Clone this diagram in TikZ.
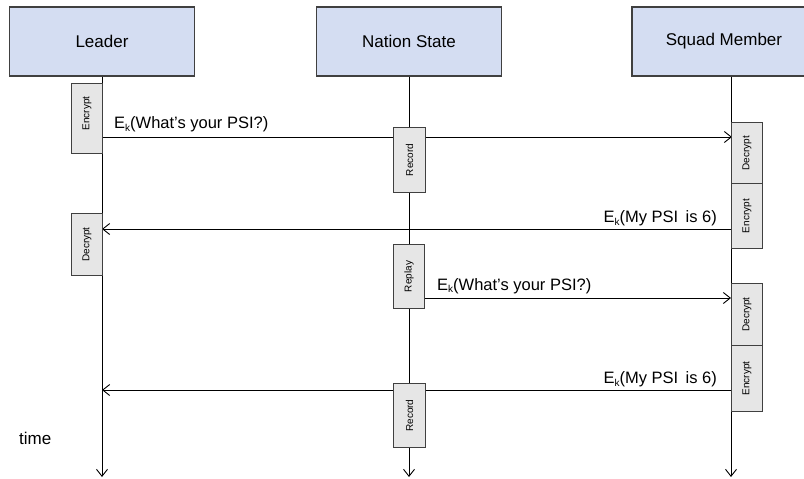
\documentclass[tikz,border=0pt]{standalone}
\usepackage{fontspec}
\setmainfont{Liberation Sans}
\usetikzlibrary{arrows.meta}
\definecolor{headfill}{RGB}{212,221,242}
\definecolor{actfill}{RGB}{230,230,230}
\definecolor{edgegray}{RGB}{64,64,64}
% small lowered key index
\newcommand{\keysub}[1]{\raisebox{-2.5pt}{\fontsize{10}{12}\selectfont #1}}
\begin{document}
\begin{tikzpicture}[x=1pt,y=-1pt,
  head/.style={draw=edgegray,line width=1.4pt,fill=headfill,minimum width=185pt,
    minimum height=69pt,inner sep=0pt,font=\fontsize{17}{20}\selectfont},
  act/.style={draw=edgegray,line width=1.1pt,fill=actfill,inner sep=0pt,
    minimum width=31pt,anchor=north west},
  actlabel/.style={rotate=90,inner sep=0pt,font=\fontsize{10}{12}\selectfont},
  life/.style={line width=0.9pt,-{Straight Barb[length=7pt,width=11pt]}},
  msg/.style={line width=0.9pt,-{Straight Barb[length=7pt,width=11pt]}},
  msglabel/.style={inner sep=0pt,font=\fontsize{16.5}{19}\selectfont}]
\useasboundingbox (0,0) rectangle (804,479);
\clip (0,0) rectangle (804,479);

% lifeline ends
\coordinate (leaderEnd) at (102,477);
\coordinate (nationEnd) at (409,477);
\coordinate (squadEnd)  at (731,477);

% participant headers
\node[head] (leader) at (102,41.5) {Leader};
\node[head] (nation) at (409,41.5) {Nation State};
\node[head,minimum width=190pt] (squad) at (727,41.5) {};
\node[font=\fontsize{17}{20}\selectfont,inner sep=0pt] (squadtxt) at (724,41.5) {Squad Member};

% lifelines
\draw[life] (leader.south -| leaderEnd) -- (leaderEnd);
\draw[life] (nation.south -| nationEnd) -- (nationEnd);
\draw[life] (squad.south -| squadEnd) -- (squadEnd);

% message anchor points
\coordinate (m1s) at (102,137);  \coordinate (m1e) at (732,137);
\coordinate (m2s) at (732,229);  \coordinate (m2e) at (102,229);
\coordinate (m3s) at (424,298);  \coordinate (m3e) at (731,298);
\coordinate (m4s) at (731,390);  \coordinate (m4e) at (102,390);

% messages
\draw[msg] (m1s) -- (m1e);
\draw[msg] (m2s) -- (m2e);
\draw[msg] (m3s) -- (m3e);
\draw[msg] (m4s) -- (m4e);

\node[msglabel,anchor=base west] (t1) at (114,128.5) {E\keysub{k}(What’s your PSI?)};
\node[msglabel,anchor=base east] (t2) at (717,222.5) {E\keysub{k}(My PSI\, is 6)};
\node[msglabel,anchor=base west] (t3) at (437,290) {E\keysub{k}(What’s your PSI?)};
\node[msglabel,anchor=base east] (t4) at (717,383.5) {E\keysub{k}(My PSI\, is 6)};

% activation boxes
\node[act,minimum height=70pt] (encL) at (71,83) {};
\node[actlabel] at ([yshift=5pt]encL.center) {Encrypt};
\node[act,minimum height=62pt] (decL) at (71,213) {};
\node[actlabel] at (decL.center) {Decrypt};

\node[act,minimum height=65pt,minimum width=32pt] (recN1) at (393,127) {};
\node[actlabel] at (recN1.center) {Record};
\node[act,minimum height=64pt] (repN) at (393,244) {};
\node[actlabel] at (repN.center) {Replay};
\node[act,minimum height=64pt,minimum width=32pt] (recN2) at (393,383) {};
\node[actlabel] at (recN2.center) {Record};

\node[act,minimum height=61pt] (decS1) at (731,122) {};
\node[actlabel] at (decS1.center) {Decrypt};
\node[act,minimum height=65pt] (encS1) at (731,183) {};
\node[actlabel] at (encS1.center) {Encrypt};
\node[act,minimum height=62pt] (decS2) at (731,283) {};
\node[actlabel] at (decS2.center) {Decrypt};
\node[act,minimum height=66pt] (encS2) at (731,345) {};
\node[actlabel] at (encS2.center) {Encrypt};

% time axis label
\node[anchor=west,inner sep=0pt,font=\fontsize{17}{20}\selectfont] (time) at (19,438) {time};
\end{tikzpicture}
\end{document}
